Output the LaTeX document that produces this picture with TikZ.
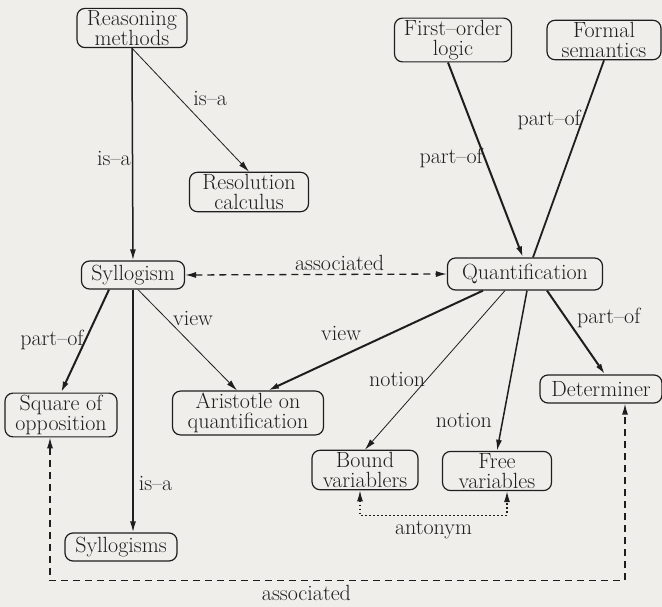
\documentclass[tikz,border=0pt]{standalone}
\usepackage{fontspec}
\usetikzlibrary{arrows.meta}
\definecolor{paper}{RGB}{239,238,234}
\definecolor{ink}{RGB}{30,30,30}

\begin{document}
\begin{tikzpicture}[
        x=1pt,y=-1pt,
        font=\fontsize{22}{20}\selectfont,
        concept/.style={draw=ink,text=ink,rectangle,rounded corners=8pt,inner xsep=4pt,inner ysep=2pt,line width=1.2pt,align=center,minimum height=28pt},
        rel/.style={draw=ink,-{Latex[length=11pt,width=6pt]},line width=1.5pt},
        thinrel/.style={rel,line width=0.8pt},
        heavyrel/.style={rel,line width=2pt},
        assoc/.style={draw=ink,{Latex[length=11pt,width=6pt]}-{Latex[length=11pt,width=6pt]},line width=1.3pt,dash pattern=on 7pt off 5pt},
        anto/.style={draw=ink,{Latex[length=11pt,width=6pt]}-{Latex[length=11pt,width=6pt]},line width=1.3pt,dash pattern=on 1.5pt off 2.5pt},
        lbl/.style={inner sep=1pt,text=ink}
      ]
      \fill[paper] (0,0) rectangle (662,607);
      \useasboundingbox (0,0) rectangle (662,607);

      \node[concept,minimum width=110pt] (reason) at (132,28) {Reasoning\\methods};
      \node[concept,minimum width=119pt] (resol) at (249,192) {Resolution\\calculus};
      \node[concept,minimum width=103pt] (syllog) at (133,275) {Syllogism};
      \node[concept,minimum width=117pt] (first) at (453,40) {First--order\\logic};
      \node[concept,minimum width=114pt] (formal) at (604,40) {Formal\\semantics};
      \node[concept,minimum width=155pt,minimum height=32pt] (quant) at (525,274) {Quantification};
      \node[concept,minimum width=112pt] (square) at (61,415) {Square of\\opposition};
      \node[concept,minimum width=151pt] (aristotle) at (248,413) {Aristotle on\\quantification};
      \node[concept,minimum width=112pt] (syllogisms) at (121,547) {Syllogisms};
      \node[concept,minimum width=106pt] (bound) at (365,470) {Bound\\variablers};
      \node[concept,minimum width=109pt] (free) at (497,471) {Free\\variables};
      \node[concept,minimum width=122pt] (determiner) at (601,389) {Determiner};

      \draw[rel] (reason.south) -- (syllog.north) node[lbl,pos=.52,left] {is--a};
      \draw[thinrel] (reason.south) -- (resol.north) node[lbl,pos=.41,right=12pt] {is--a};
      \draw[assoc] (syllog.east) -- (quant.west) node[lbl,pos=.59,above=2pt] {associated};
      \draw[heavyrel] ([xshift=-5pt]first.south) -- ([xshift=-2pt]quant.north) node[lbl,pos=.49,left] {part--of};
      \draw[draw=ink,line width=1.8pt] (formal.south) -- ([xshift=8pt]quant.north) node[lbl,pos=.3,left] {part--of};
      \draw[heavyrel] ([xshift=-24pt]syllog.south) -- (square.north) node[lbl,pos=.49,left] {part--of};
      \draw[thinrel] ([xshift=5pt]syllog.south) -- ([xshift=-11pt]aristotle.north) node[lbl,pos=.29,right=5pt] {view};
      \draw[rel] (syllog.south) -- (syllog.south |- syllogisms.north) node[lbl,pos=.8,right=4pt] {is--a};
      \draw[heavyrel] ([xshift=-42pt]quant.south) -- ([xshift=20pt]aristotle.north) node[lbl,pos=.66,above=14pt] {view};
      \draw[thinrel] ([xshift=-20pt]quant.south) -- (bound.north) node[lbl,pos=.56,left] {notion};
      \draw[rel] ([xshift=2pt]quant.south) -- (free.north) node[lbl,pos=.81,left=9pt] {notion};
      \draw[heavyrel] ([xshift=22pt]quant.south) -- ([xshift=4pt]determiner.north) node[lbl,pos=.33,right=9pt] {part--of};
      \draw[anto] ([xshift=-5pt]bound.south) -- ++(0,-25pt) -| ([xshift=10pt]free.south) node[lbl,pos=.25,below=4pt] {antonym};
      \draw[assoc] ([xshift=-11pt]square.south) -- ++(0,-143pt) -| ([xshift=24pt]determiner.south) node[lbl,pos=.223,below=3pt] {associated};
    \end{tikzpicture}
\end{document}
